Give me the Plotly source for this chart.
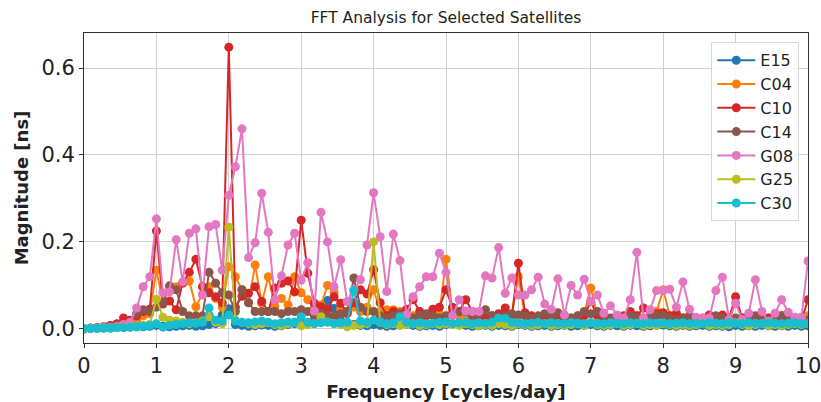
import plotly.graph_objects as go

# FFT frequency bins (cycles/day), resolution 1/11 cycle/day
N_BINS = 111
freqs = [k / 11 for k in range(N_BINS)]

satellites = ["E15", "C04", "C10", "C14", "G08", "G25", "C30"]
colors = ["#1f77b4", "#ff7f0e", "#d62728", "#8c564b", "#e377c2", "#bcbd22", "#17becf"]

mag_E15 = [
    0.000, 0.001, 0.001, 0.002, 0.002, 0.003, 0.003, 0.004, 0.005, 0.005, 0.006,
    0.008, 0.006, 0.005, 0.006, 0.007, 0.008, 0.006, 0.007, 0.010, 0.012, 0.032,
    0.046, 0.010, 0.008, 0.006, 0.007, 0.009, 0.008, 0.006, 0.007, 0.010, 0.012,
    0.015, 0.012, 0.020, 0.030, 0.065, 0.047, 0.020, 0.012, 0.010, 0.008, 0.007,
    0.010, 0.008, 0.006, 0.007, 0.009, 0.010, 0.008, 0.006, 0.007, 0.008, 0.006,
    0.010, 0.050, 0.012, 0.008, 0.006, 0.007, 0.008, 0.006, 0.008, 0.007, 0.006,
    0.010, 0.008, 0.006, 0.007, 0.008, 0.006, 0.007, 0.008, 0.006, 0.007, 0.008,
    0.010, 0.007, 0.006, 0.008, 0.007, 0.006, 0.008, 0.007, 0.006, 0.007, 0.008,
    0.009, 0.007, 0.006, 0.008, 0.006, 0.007, 0.008, 0.006, 0.007, 0.006, 0.005,
    0.008, 0.006, 0.007, 0.006, 0.008, 0.007, 0.006, 0.007, 0.006, 0.008, 0.006,
    0.007,
]

mag_C04 = [
    0.000, 0.001, 0.002, 0.003, 0.005, 0.008, 0.010, 0.015, 0.020, 0.030, 0.035,
    0.135, 0.060, 0.097, 0.097, 0.105, 0.110, 0.051, 0.080, 0.097, 0.070, 0.050,
    0.143, 0.120, 0.090, 0.060, 0.147, 0.059, 0.120, 0.051, 0.070, 0.055, 0.120,
    0.083, 0.067, 0.050, 0.055, 0.100, 0.084, 0.045, 0.040, 0.050, 0.040, 0.050,
    0.090, 0.040, 0.044, 0.044, 0.040, 0.030, 0.030, 0.025, 0.030, 0.040, 0.035,
    0.160, 0.040, 0.030, 0.030, 0.025, 0.030, 0.025, 0.025, 0.020, 0.025, 0.030,
    0.120, 0.030, 0.025, 0.020, 0.025, 0.030, 0.025, 0.020, 0.025, 0.030, 0.035,
    0.094, 0.030, 0.025, 0.020, 0.025, 0.020, 0.025, 0.030, 0.025, 0.030, 0.040,
    0.090, 0.030, 0.025, 0.020, 0.025, 0.020, 0.025, 0.020, 0.025, 0.030, 0.020,
    0.060, 0.025, 0.020, 0.025, 0.020, 0.025, 0.020, 0.025, 0.020, 0.025, 0.020,
    0.030,
]

mag_C10 = [
    0.000, 0.002, 0.003, 0.005, 0.008, 0.012, 0.025, 0.020, 0.030, 0.040, 0.045,
    0.225, 0.057, 0.064, 0.044, 0.106, 0.130, 0.160, 0.097, 0.083, 0.074, 0.060,
    0.648, 0.050, 0.075, 0.082, 0.097, 0.063, 0.040, 0.094, 0.105, 0.110, 0.085,
    0.250, 0.128, 0.059, 0.051, 0.045, 0.074, 0.059, 0.035, 0.060, 0.090, 0.080,
    0.136, 0.060, 0.030, 0.040, 0.035, 0.045, 0.067, 0.040, 0.030, 0.045, 0.050,
    0.090, 0.048, 0.040, 0.067, 0.040, 0.030, 0.025, 0.030, 0.035, 0.048, 0.030,
    0.151, 0.037, 0.030, 0.025, 0.030, 0.035, 0.025, 0.030, 0.020, 0.025, 0.030,
    0.063, 0.030, 0.025, 0.020, 0.025, 0.030, 0.040, 0.030, 0.048, 0.030, 0.035,
    0.037, 0.030, 0.036, 0.025, 0.030, 0.025, 0.020, 0.032, 0.025, 0.032, 0.025,
    0.074, 0.025, 0.020, 0.025, 0.020, 0.025, 0.020, 0.030, 0.020, 0.025, 0.020,
    0.067,
]

mag_C14 = [
    0.000, 0.001, 0.002, 0.003, 0.004, 0.006, 0.008, 0.015, 0.035, 0.044, 0.040,
    0.050, 0.060, 0.099, 0.090, 0.040, 0.030, 0.030, 0.030, 0.130, 0.105, 0.083,
    0.078, 0.040, 0.090, 0.060, 0.040, 0.040, 0.040, 0.040, 0.035, 0.040, 0.040,
    0.044, 0.040, 0.030, 0.035, 0.030, 0.030, 0.035, 0.040, 0.117, 0.050, 0.040,
    0.040, 0.030, 0.025, 0.030, 0.035, 0.030, 0.025, 0.030, 0.035, 0.030, 0.025,
    0.030, 0.035, 0.040, 0.040, 0.030, 0.035, 0.044, 0.030, 0.025, 0.030, 0.035,
    0.032, 0.030, 0.025, 0.030, 0.035, 0.030, 0.037, 0.030, 0.025, 0.030, 0.040,
    0.035, 0.040, 0.030, 0.025, 0.030, 0.025, 0.030, 0.025, 0.020, 0.025, 0.030,
    0.030, 0.025, 0.020, 0.025, 0.030, 0.025, 0.020, 0.025, 0.030, 0.025, 0.020,
    0.025, 0.020, 0.025, 0.030, 0.025, 0.020, 0.025, 0.030, 0.025, 0.020, 0.025,
    0.020,
]

mag_G08 = [
    0.000, 0.001, 0.002, 0.003, 0.004, 0.006, 0.010, 0.015, 0.048, 0.097, 0.120,
    0.253, 0.083, 0.085, 0.205, 0.108, 0.220, 0.230, 0.078, 0.235, 0.240, 0.135,
    0.307, 0.373, 0.460, 0.164, 0.198, 0.312, 0.222, 0.067, 0.122, 0.193, 0.220,
    0.112, 0.152, 0.041, 0.268, 0.200, 0.097, 0.159, 0.063, 0.090, 0.113, 0.193,
    0.313, 0.212, 0.086, 0.218, 0.157, 0.032, 0.074, 0.097, 0.120, 0.120, 0.174,
    0.130, 0.030, 0.067, 0.041, 0.040, 0.040, 0.122, 0.117, 0.187, 0.082, 0.117,
    0.078, 0.078, 0.090, 0.119, 0.057, 0.045, 0.115, 0.032, 0.100, 0.078, 0.114,
    0.063, 0.078, 0.036, 0.053, 0.032, 0.025, 0.067, 0.176, 0.025, 0.044, 0.088,
    0.088, 0.091, 0.050, 0.108, 0.045, 0.027, 0.025, 0.025, 0.088, 0.119, 0.021,
    0.059, 0.021, 0.036, 0.113, 0.040, 0.017, 0.036, 0.067, 0.038, 0.027, 0.027,
    0.156,
]

mag_G25 = [
    0.000, 0.001, 0.001, 0.002, 0.002, 0.003, 0.004, 0.005, 0.006, 0.008, 0.010,
    0.068, 0.027, 0.020, 0.018, 0.015, 0.012, 0.014, 0.018, 0.028, 0.015, 0.012,
    0.234, 0.020, 0.015, 0.012, 0.010, 0.012, 0.014, 0.010, 0.008, 0.012, 0.015,
    0.007, 0.010, 0.012, 0.028, 0.015, 0.012, 0.010, 0.005, 0.008, 0.010, 0.012,
    0.200, 0.015, 0.010, 0.012, 0.008, 0.010, 0.012, 0.008, 0.010, 0.012, 0.010,
    0.012, 0.010, 0.008, 0.012, 0.010, 0.008, 0.010, 0.008, 0.012, 0.010, 0.008,
    0.012, 0.010, 0.008, 0.010, 0.012, 0.008, 0.010, 0.008, 0.010, 0.012, 0.008,
    0.014, 0.010, 0.008, 0.010, 0.012, 0.008, 0.010, 0.012, 0.008, 0.010, 0.008,
    0.012, 0.010, 0.008, 0.010, 0.008, 0.010, 0.012, 0.008, 0.010, 0.008, 0.010,
    0.014, 0.010, 0.008, 0.010, 0.012, 0.008, 0.010, 0.008, 0.010, 0.012, 0.010,
    0.012,
]

mag_C30 = [
    0.000, 0.001, 0.001, 0.002, 0.002, 0.003, 0.003, 0.004, 0.005, 0.006, 0.008,
    0.012, 0.004, 0.008, 0.010, 0.012, 0.014, 0.013, 0.015, 0.048, 0.020, 0.018,
    0.032, 0.018, 0.015, 0.014, 0.016, 0.018, 0.015, 0.012, 0.014, 0.016, 0.015,
    0.028, 0.015, 0.012, 0.014, 0.016, 0.012, 0.014, 0.015, 0.088, 0.018, 0.015,
    0.020, 0.016, 0.012, 0.014, 0.028, 0.015, 0.012, 0.014, 0.012, 0.013, 0.015,
    0.016, 0.012, 0.014, 0.015, 0.012, 0.014, 0.013, 0.015, 0.025, 0.024, 0.015,
    0.014, 0.012, 0.013, 0.015, 0.012, 0.014, 0.013, 0.012, 0.014, 0.013, 0.012,
    0.014, 0.013, 0.012, 0.014, 0.013, 0.012, 0.014, 0.013, 0.012, 0.014, 0.013,
    0.014, 0.012, 0.013, 0.014, 0.012, 0.013, 0.012, 0.014, 0.013, 0.012, 0.014,
    0.013, 0.012, 0.014, 0.013, 0.012, 0.014, 0.013, 0.012, 0.013, 0.014, 0.012,
    0.013,
]

x_ticks = list(range(0, 11))
y_ticks = [0.0, 0.2, 0.4, 0.6]

series = [mag_E15, mag_C04, mag_C10, mag_C14, mag_G08, mag_G25, mag_C30]

FONT = "DejaVu Sans, Verdana, sans-serif"

fig = go.Figure()
for name, color, mags in zip(satellites, colors, series):
    fig.add_trace(go.Scatter(
        x=freqs, y=mags, name=name, mode="lines+markers",
        line=dict(color=color, width=2),
        marker=dict(color=color, size=9),
    ))

axis_common = dict(
    showline=True, mirror=True, linecolor="#333333", linewidth=1,
    ticks="outside", ticklen=4, tickcolor="#333333",
    showgrid=True, gridcolor="#d0d0d0", gridwidth=1,
    zeroline=False, automargin=False, ticklabeloverflow="allow",
    tickfont=dict(family=FONT, size=21, color="#222222"),
)

fig.update_xaxes(
    range=[0, 10], tickvals=x_ticks,
    title=dict(text="<b>Frequency [cycles/day]</b>",
               font=dict(family=FONT, size=18.5, color="#222222"), standoff=8),
    **axis_common,
)
fig.update_yaxes(
    range=[-0.0325, 0.6805], tickvals=y_ticks, tickformat=".1f",
    title=dict(text="<b>Magnitude [ns]</b>",
               font=dict(family=FONT, size=18, color="#222222"), standoff=8),
    **axis_common,
)

fig.update_layout(
    width=821, height=402,
    margin=dict(l=84, r=13, t=33, b=59),
    plot_bgcolor="white", paper_bgcolor="white",
    title=dict(text="FFT Analysis for Selected Satellites",
               font=dict(family=FONT, size=15.5, color="#222222"),
               x=0.5, xref="paper", y=1 - 18 / 402, yref="container",
               xanchor="center", yanchor="middle"),
    legend=dict(
        x=0.988, y=0.97, xanchor="right", yanchor="top",
        bgcolor="rgba(255,255,255,0.85)", bordercolor="#d8d8d8", borderwidth=1,
        font=dict(family=FONT, size=16, color="#222222"),
        itemwidth=38,
    ),
    showlegend=True,
)

fig.write_html("out.html")
